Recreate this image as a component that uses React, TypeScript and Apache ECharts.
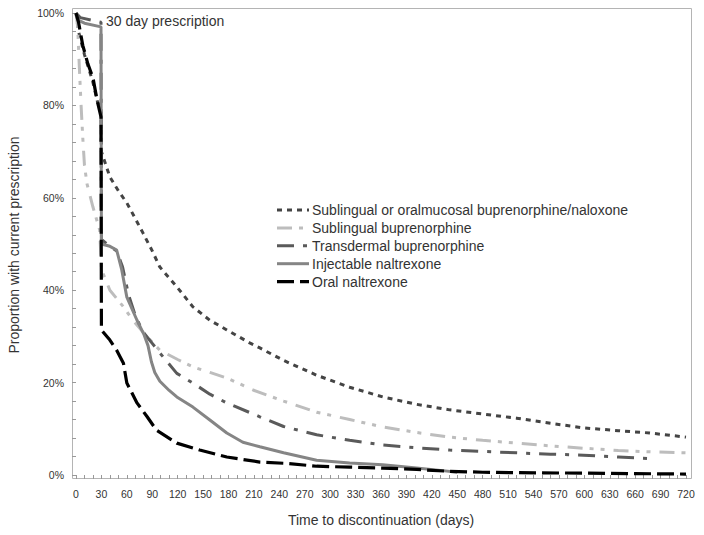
import React, { useEffect, useRef } from "react";
import * as echarts from "echarts";

// Kaplan-Meier style curves: days and proportion (%) still on prescription
const naloxoneComboDays = [0, 3, 10, 15, 20, 25, 29.5, 30, 40, 50, 60, 70, 79, 90, 99, 120, 138, 158, 178, 205, 217, 245, 284, 323, 362, 402, 441, 480, 520, 560, 599, 640, 677, 720];
const naloxoneComboValues = [100, 96, 91, 88, 85, 81, 79, 70, 64.5, 61.5, 58.9, 55.5, 52.4, 48.5, 45, 40.5, 36.4, 33.5, 31.4, 28.6, 27.5, 24.8, 21.6, 19, 16.9, 15.3, 14.1, 13.2, 12.3, 11.2, 10.2, 9.6, 9.1, 8.2];

const sublingualDays = [0, 2, 4, 6, 8, 10, 13, 20, 28, 30, 40, 56, 67, 84, 99, 120, 138, 158, 178, 209, 245, 284, 323, 362, 402, 441, 480, 520, 560, 599, 640, 680, 720];
const sublingualValues = [100, 97, 88, 80, 73, 67, 63, 58, 53, 44.5, 40, 36.4, 33.5, 29.9, 27, 25, 23.4, 22.2, 21, 18.4, 16, 13.6, 12, 10.4, 9.2, 8.2, 7.5, 6.9, 6.3, 5.8, 5.3, 5, 4.8];

const transdermalDays = [0, 5, 29.5, 30, 40, 48, 55, 62, 70, 79, 90, 99, 119, 138, 158, 178, 217, 245, 284, 323, 362, 402, 441, 480, 520, 560, 599, 640, 681];
const transdermalValues = [100, 99, 98, 51, 49.5, 48.5, 45, 39, 34.5, 31, 28.5, 26.4, 22, 19.9, 17.5, 15.6, 12.6, 10.5, 8.7, 7.5, 6.5, 5.9, 5.4, 5.1, 4.8, 4.5, 4.3, 3.9, 3.5];

const injectableDays = [0, 2, 10, 29.5, 30, 40, 48, 54, 60, 72, 80, 85, 89, 93, 99, 110, 119, 138, 158, 178, 197, 217, 245, 284, 323, 362, 402, 430, 450];
const injectableValues = [100, 98.5, 97.8, 97, 50, 49.5, 48.7, 44.4, 38.5, 33.5, 30.5, 28, 24.5, 22.2, 20.3, 18.3, 16.9, 14.7, 11.9, 9.1, 7.1, 6.1, 4.8, 3.2, 2.6, 2.2, 1.5, 1.0, 0.6];

const oralDays = [0, 3, 8, 14, 20, 25, 29.5, 30, 40, 48, 56, 60, 72, 84, 95, 119, 146, 178, 217, 250, 284, 323, 362, 402, 441, 480, 520, 599, 660, 720];
const oralValues = [100, 98, 93, 89, 86, 81, 77.5, 31.4, 29.2, 27, 24.2, 19.9, 15.6, 12.6, 9.7, 6.9, 5.4, 3.9, 2.8, 2.5, 1.9, 1.7, 1.5, 1.2, 0.8, 0.6, 0.5, 0.4, 0.3, 0.2];

const seriesNames = [
  "Sublingual or oralmucosal buprenorphine/naloxone",
  "Sublingual buprenorphine",
  "Transdermal buprenorphine",
  "Injectable naltrexone",
  "Oral naltrexone",
];

const FONT = "'Liberation Sans', Arial, sans-serif";

const styles = [
  { color: "#444444", dash: [5, 5] as number[] | null, width: 3 },
  { color: "#bdbdbd", dash: [15, 7, 4, 7, 4, 9] as number[] | null, width: 3 },
  { color: "#5a5a5a", dash: [17, 9, 4, 9] as number[] | null, width: 3 },
  { color: "#858585", dash: null as number[] | null, width: 3 },
  { color: "#000000", dash: [17, 6] as number[] | null, width: 3.2 },
];

function pairs(d: number[], v: number[]) {
  return d.map((x, i) => [x, v[i]]);
}

export default function App() {
  const ref = useRef<HTMLDivElement>(null);
  useEffect(() => {
    if (!ref.current) return;
    const chart = echarts.init(ref.current, undefined, { renderer: "svg" });
    const datasets = [
      pairs(naloxoneComboDays, naloxoneComboValues),
      pairs(sublingualDays, sublingualValues),
      pairs(transdermalDays, transdermalValues),
      pairs(injectableDays, injectableValues),
      pairs(oralDays, oralValues),
    ];
    const tickStyle = { color: "#999999", width: 1 };
    const legendTop = 210;
    const legendGap = 17.9;
    const legendGraphics: any[] = [];
    seriesNames.forEach((name, i) => {
      const cy = legendTop + i * legendGap;
      const s = styles[i];
      legendGraphics.push({
        type: "line",
        shape: { x1: 277, y1: cy, x2: 309, y2: cy },
        style: {
          stroke: s.color,
          lineWidth: s.width,
          lineDash: s.dash || undefined,
        },
        z: 10,
      });
      legendGraphics.push({
        type: "text",
        x: 312,
        y: cy,
        style: {
          text: name,
          fontFamily: FONT,
          fontSize: 14,
          fill: "#333333",
          align: "left",
          verticalAlign: "middle",
        },
        z: 10,
      });
    });

    chart.setOption({
      animation: false,
      grid: { left: 76, right: 18, top: 13, bottom: 60 },
      xAxis: {
        type: "value",
        min: 0,
        max: 720,
        interval: 30,
        offset: 3,
        axisLine: { show: false },
        axisTick: { show: true, length: 4, lineStyle: tickStyle },
        minorTick: { show: true, splitNumber: 3, length: 4, lineStyle: tickStyle },
        splitLine: { show: false },
        minorSplitLine: { show: false },
        axisLabel: { fontFamily: FONT, fontSize: 10.5, color: "#333333", margin: 10 },
      },
      yAxis: {
        type: "value",
        min: 0,
        max: 100,
        interval: 20,
        offset: 4,
        axisLine: { show: false },
        axisTick: { show: true, length: 4, lineStyle: tickStyle },
        minorTick: { show: true, splitNumber: 5, length: 4, lineStyle: tickStyle },
        splitLine: { show: false },
        minorSplitLine: { show: false },
        axisLabel: {
          fontFamily: FONT,
          fontSize: 10.5,
          color: "#333333",
          margin: 8,
          formatter: "{value}%",
        },
      },
      series: datasets.map((data, i) => ({
        name: seriesNames[i],
        type: "line",
        data,
        showSymbol: false,
        symbol: "none",
        clip: false,
        lineStyle: {
          color: styles[i].color,
          width: styles[i].width,
          type: styles[i].dash || "solid",
          cap: "butt",
        },
        itemStyle: { color: styles[i].color },
        z: 2 + i,
      })),
      graphic: [
        {
          type: "rect",
          shape: { x: 72.5, y: 8.5, width: 619, height: 470 },
          style: { fill: "none", stroke: "#b4b4b4", lineWidth: 1 },
          z: 0,
        },
        {
          type: "text",
          x: 106,
          y: 21,
          style: {
            text: "30 day prescription",
            fontFamily: FONT,
            fontSize: 14,
            fill: "#333333",
            align: "left",
            verticalAlign: "middle",
          },
        },
        {
          type: "text",
          x: 381,
          y: 520,
          style: {
            text: "Time to discontinuation (days)",
            fontFamily: FONT,
            fontSize: 14,
            fill: "#333333",
            align: "center",
            verticalAlign: "middle",
          },
        },
        {
          type: "text",
          x: 14,
          y: 245,
          rotation: Math.PI / 2,
          style: {
            text: "Proportion with current prescription",
            fontFamily: FONT,
            fontSize: 14,
            fill: "#333333",
            align: "center",
            verticalAlign: "middle",
          },
        },
        ...legendGraphics,
      ],
    });
    return () => chart.dispose();
  }, []);
  return (
    <div
      ref={ref}
      style={{ position: "fixed", left: 0, top: 0, width: 704, height: 535, background: "#fff" }}
    />
  );
}
